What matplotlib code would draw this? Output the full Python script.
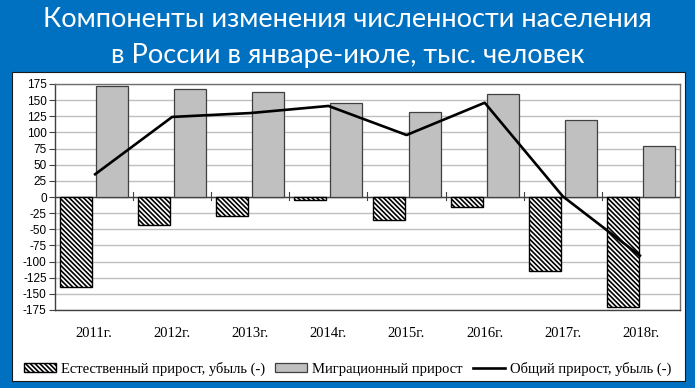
import matplotlib
matplotlib.use("Agg")
import matplotlib.pyplot as plt
from matplotlib.patches import Rectangle
from matplotlib.lines import Line2D
import numpy as np

years = ["2011г.", "2012г.", "2013г.", "2014г.", "2015г.", "2016г.", "2017г.", "2018г."]
natural = [-139, -44, -29, -5, -36, -15, -115, -171]
migration = [172, 168, 162, 145, 131, 159, 120, 79]
total = [34, 124, 130, 141, 96, 146, 1, -92]
yticks = list(range(-175, 176, 25))

title1 = "Компоненты изменения численности населения"
title2 = "в России в январе-июле, тыс. человек"
leg_labels = ["Естественный прирост, убыль (-)", "Миграционный прирост", "Общий прирост, убыль (-)"]

W, H = 695, 388
plt.rcParams['hatch.linewidth'] = 1.2
fig = plt.figure(figsize=(W/100, H/100), dpi=100)
fig.patch.set_facecolor('#0070C0')

# white panel
panel = Rectangle((12/W, 1-381/H), (685-12)/W, (381-72)/H, transform=fig.transFigure,
                  facecolor='white', edgecolor='#1a1a1a', linewidth=0.8, zorder=-5)
fig.patches.append(panel)

fig.text(0.5, 1-27/H, title1, color='white', fontsize=19.6, family='Lato', ha='center', va='baseline')
fig.text(0.5, 1-63/H, title2, color='white', fontsize=19.6, family='Lato', ha='center', va='baseline')

HATCH = '\\' * 7

ax = fig.add_axes([55/W, 1-310/H, (680-55)/W, (310-84)/H])
ax.set_zorder(2)
ax.set_facecolor('white')
x = np.arange(len(years))
bw = 0.41
off = 0.23
ax.bar(x - off, natural, width=bw, facecolor='white', edgecolor='black', hatch=HATCH, linewidth=1.0, zorder=3)
ax.bar(x + off, migration, width=bw, facecolor='#C0C0C0', edgecolor='#404040', linewidth=0.9, zorder=3)
ax.plot(x, total, color='black', linewidth=1.9, zorder=4, solid_capstyle='butt')

ax.set_xlim(-0.5, len(years) - 0.5)
ax.set_ylim(-175, 175)
ax.set_yticks(yticks)
ax.set_yticklabels([str(v) for v in yticks], family='Liberation Sans', fontsize=8.5)
ax.yaxis.grid(True, color='#BFBFBF', linewidth=1.0, zorder=0)
ax.set_axisbelow(True)
ax.tick_params(axis='y', length=4, width=0.8, color='#404040', pad=2, direction='out')
ax.set_xticks(x)
ax.set_xticklabels(years, family='Liberation Serif', fontsize=10.5)
ax.tick_params(axis='x', length=0, pad=12)
for s in ax.spines.values():
    s.set_color('#707070')
    s.set_linewidth(1.0)
ax.spines['left'].set_color('#404040')
ax.spines['bottom'].set_color('#404040')

# category axis at zero
ax.axhline(0, color='#404040', linewidth=1.0, zorder=2)
for b in np.arange(0.5, len(years) - 0.5, 1.0):
    ax.plot([b, b], [-5, 8], color='#404040', linewidth=0.8, zorder=2)

handles = [
    Rectangle((0, 0), 1, 1, facecolor='white', edgecolor='black', hatch=HATCH, linewidth=1.0),
    Rectangle((0, 0), 1, 1, facecolor='#C0C0C0', edgecolor='#404040', linewidth=0.9),
    Line2D([0], [0], color='black', linewidth=1.9),
]
leg = fig.legend(handles, leg_labels, loc='center', bbox_to_anchor=(0.5, 1-369/H), ncol=3,
                 frameon=False, prop={'family': 'Liberation Serif', 'size': 10.5},
                 handlelength=2.2, handleheight=0.6, handletextpad=0.35, columnspacing=0.7)

fig.savefig('out.png', dpi=100, facecolor=fig.get_facecolor())
